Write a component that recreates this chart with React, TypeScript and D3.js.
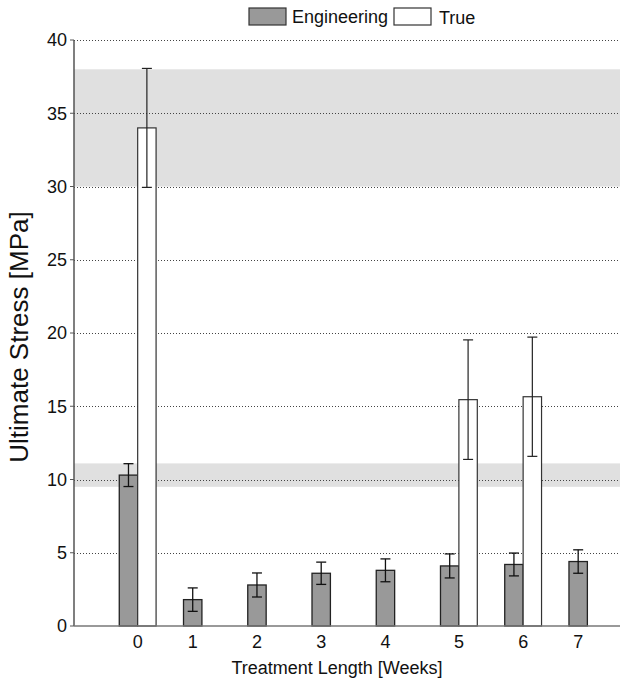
import React from "react";
import * as d3 from "d3";

// treatment weeks
const weeks = ["0", "1", "2", "3", "4", "5", "6", "7"];
// engineering stress mean / error
const engMean = [10.3, 1.8, 2.8, 3.6, 3.8, 4.1, 4.2, 4.4];
const engErr = [0.78, 0.8, 0.82, 0.76, 0.78, 0.82, 0.78, 0.8];
// true stress mean / error (only some weeks)
const trueMean: (number | null)[] = [34.0, null, null, null, null, 15.45, 15.65, null];
const trueErr: (number | null)[] = [4.06, null, null, null, null, 4.08, 4.07, null];
// reference ranges (shaded)
const bandLow = [30, 9.5];
const bandHigh = [38, 11.1];
const yTicks = [0, 5, 10, 15, 20, 25, 30, 35, 40];

const W = 627;
const H = 689;
const left = 74;
const right = 620;
const top = 40;
const bottom = 626;
const font = "Arial, 'Liberation Sans', sans-serif";

export default function App() {
  const x = d3
    .scaleBand()
    .domain(weeks)
    .range([left, right])
    .paddingInner(0.427)
    .paddingOuter(0.463)
    .align(0.761);
  const bw = x.bandwidth() / 2;

  const y = d3.scaleLinear().domain([0, 40]).range([bottom, top]);

  const cap = 5;

  return (
    <svg
      width={W}
      height={H}
      style={{ position: "absolute", left: 0, top: 0, background: "#fff" }}
      fontFamily={font}
    >
      {/* shaded ranges */}
      {bandLow.map((lo, i) => (
        <rect
          key={"band" + i}
          x={left}
          width={right - left}
          y={y(bandHigh[i])}
          height={y(lo) - y(bandHigh[i])}
          fill="#e0e0e0"
        />
      ))}

      {/* grid */}
      {yTicks.filter((t) => t > 0).map((t) => (
        <line
          key={"g" + t}
          x1={left}
          x2={right}
          y1={Math.round(y(t)) + 0.5}
          y2={Math.round(y(t)) + 0.5}
          stroke="#444"
          strokeWidth={1}
          strokeDasharray="1,2"
        />
      ))}

      {/* engineering bars */}
      {weeks.map((w, i) => (
        <rect
          key={"e" + w}
          x={x(w)!}
          width={bw}
          y={y(engMean[i])}
          height={y(0) - y(engMean[i])}
          fill="#999999"
          stroke="#222"
          strokeWidth={1.3}
        />
      ))}

      {/* true bars */}
      {weeks.map((w, i) =>
        trueMean[i] == null ? null : (
          <rect
            key={"t" + w}
            x={x(w)! + bw}
            width={bw}
            y={y(trueMean[i]!)}
            height={y(0) - y(trueMean[i]!)}
            fill="#fff"
            stroke="#333"
            strokeWidth={1.2}
          />
        )
      )}

      {/* error bars */}
      {weeks.map((w, i) => {
        const cx = x(w)! + bw / 2;
        const y1 = y(engMean[i] + engErr[i]);
        const y2 = y(engMean[i] - engErr[i]);
        return (
          <g key={"ee" + w} stroke="#111" strokeWidth={1.3}>
            <line x1={cx} x2={cx} y1={y1} y2={y2} />
            <line x1={cx - cap} x2={cx + cap} y1={y1} y2={y1} />
            <line x1={cx - cap} x2={cx + cap} y1={y2} y2={y2} />
          </g>
        );
      })}
      {weeks.map((w, i) => {
        if (trueMean[i] == null) return null;
        const cx = x(w)! + bw * 1.5;
        const y1 = y(trueMean[i]! + trueErr[i]!);
        const y2 = y(trueMean[i]! - trueErr[i]!);
        return (
          <g key={"te" + w} stroke="#222" strokeWidth={1.2}>
            <line x1={cx} x2={cx} y1={y1} y2={y2} />
            <line x1={cx - cap} x2={cx + cap} y1={y1} y2={y1} />
            <line x1={cx - cap} x2={cx + cap} y1={y2} y2={y2} />
          </g>
        );
      })}

      {/* axes */}
      <line x1={left} x2={left} y1={top} y2={bottom} stroke="#555" strokeWidth={1.5} />
      <line x1={left} x2={right} y1={bottom} y2={bottom} stroke="#777" strokeWidth={1.5} />
      {yTicks.map((t) => (
        <g key={"yt" + t}>
          <line x1={left - 4} x2={left} y1={y(t)} y2={y(t)} stroke="#555" strokeWidth={1} />
          <text
            x={left - 7}
            y={y(t)}
            dy="0.35em"
            textAnchor="end"
            fontSize={18}
            fill="#111"
          >
            {t}
          </text>
        </g>
      ))}
      {weeks.map((w, i) => (
        <text
          key={"xt" + w}
          x={x(w)! + (trueMean[i] == null ? bw / 2 : bw)}
          y={bottom + 22}
          textAnchor="middle"
          fontSize={18}
          fill="#111"
        >
          {w}
        </text>
      ))}

      <text
        x={337}
        y={674}
        textAnchor="middle"
        fontSize={18}
        fill="#111"
      >
        Treatment Length [Weeks]
      </text>
      <text
        transform={`translate(28, 337) rotate(-90)`}
        textAnchor="middle"
        fontSize={26}
        fill="#111"
      >
        Ultimate Stress [MPa]
      </text>

      {/* legend */}
      <g>
        <rect x={249} y={8} width={37} height={17} fill="#999999" stroke="#333" strokeWidth={1.2} />
        <text x={292} y={23} fontSize={18} fill="#111">
          Engineering
        </text>
        <rect x={394} y={8} width={37} height={17} fill="#fff" stroke="#333" strokeWidth={1.2} />
        <text x={439} y={24} fontSize={18} fill="#111">
          True
        </text>
      </g>
    </svg>
  );
}
